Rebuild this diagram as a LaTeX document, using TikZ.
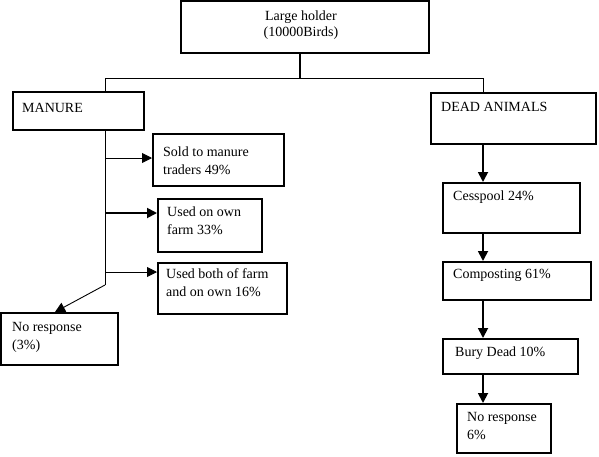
\documentclass[tikz,border=0pt]{standalone}
\usepackage{fontspec}
\setmainfont{Liberation Serif}
\usetikzlibrary{arrows.meta,positioning}
\begin{document}
\begin{tikzpicture}[x=1pt,y=-1pt,
  box/.style={draw,line width=1.5pt,rectangle,inner sep=0pt,anchor=north west},
  txt/.style={inner sep=0pt,anchor=base west,font=\fontsize{14}{17.5}\selectfont,align=left},
  thin/.style={line width=0.9pt},
  thick/.style={line width=1.8pt},
  tip/.style={-{Triangle[length=10pt,width=10pt]}}
]
\useasboundingbox (0,0) rectangle (599,456);
% boxes
\node[box,minimum width=248pt,minimum height=52pt] (top) at (180,0) {};
\node[box,minimum width=131pt,minimum height=38pt] (man) at (12,91) {};
\node[box,minimum width=131pt,minimum height=52pt] (sold) at (152,133) {};
\node[box,minimum width=104pt,minimum height=53pt] (own) at (157,198) {};
\node[box,minimum width=129pt,minimum height=51pt] (both) at (157,262) {};
\node[box,minimum width=117pt,minimum height=52pt] (nrl) at (0,312) {};
\node[box,minimum width=165pt,minimum height=51pt] (dead) at (430,92) {};
\node[box,minimum width=137pt,minimum height=50pt] (cess) at (442,182) {};
\node[box,minimum width=148pt,minimum height=38pt] (comp) at (442,261) {};
\node[box,minimum width=135pt,minimum height=35pt] (bury) at (442,338) {};
\node[box,minimum width=94pt,minimum height=49pt] (nrr) at (456,403) {};
% texts
\node[inner sep=0pt,anchor=base,font=\fontsize{14}{16}\selectfont,align=center] (ttop) at (301,36) {Large holder\\(10000Birds)};
\node[txt] (tman) at (22,112) {MANURE};
\node[txt] (tsold) at (163,174) {Sold to manure\\traders 49\%};
\node[txt] (town) at (167,234) {Used on own\\farm 33\%};
\node[txt] (tboth) at (166,296) {Used both of farm\\and on own 16\%};
\node[txt] (tnrl) at (12,349) {No response\\(3\%)};
\node[txt] (tdead) at (441,111) {DEAD ANIMALS};
\node[txt] (tcess) at (453,200) {Cesspool 24\%};
\node[txt] (tcomp) at (453,278) {Composting 61\%};
\node[txt] (tbury) at (455,356) {Bury Dead 10\%};
\node[txt] (tnrr) at (467,439) {No response\\6\%};
% bus
\coordinate (bm) at (300,78);
\coordinate (bl) at (105,78);
\coordinate (br) at (483,78);
\draw[thick] (top.south -| bm) -- (bm);
\draw[thin] (bl) -- (br);
\draw[thin] (bl) -- (bl |- man.north);
\draw[thin] (br) -- (br |- dead.north);
% manure trunk
\coordinate (tr0) at (105,129);
\coordinate (tr1) at (105,285);
\coordinate (a1) at (105,158);
\coordinate (a2) at (105,213);
\coordinate (a3) at (105,272);
\coordinate (nrtip) at (55,312);
\draw[thin] (tr0) -- (tr1);
\draw[thin,tip] (tr1) -- (nrtip);
\draw[thin,tip] (a1) -- (a1 -| sold.west);
\draw[thick,tip] (a2) -- (a2 -| own.west);
\draw[thin,tip] (a3) -- (a3 -| both.west);
% dead animals chain
\draw[thick,tip] (dead.south -| br) -- (cess.north -| br);
\draw[thick,tip] (cess.south -| br) -- (comp.north -| br);
\draw[thick,tip] (comp.south -| br) -- (bury.north -| br);
\draw[thick,tip] (bury.south -| br) -- (nrr.north -| br);
\end{tikzpicture}
\end{document}
